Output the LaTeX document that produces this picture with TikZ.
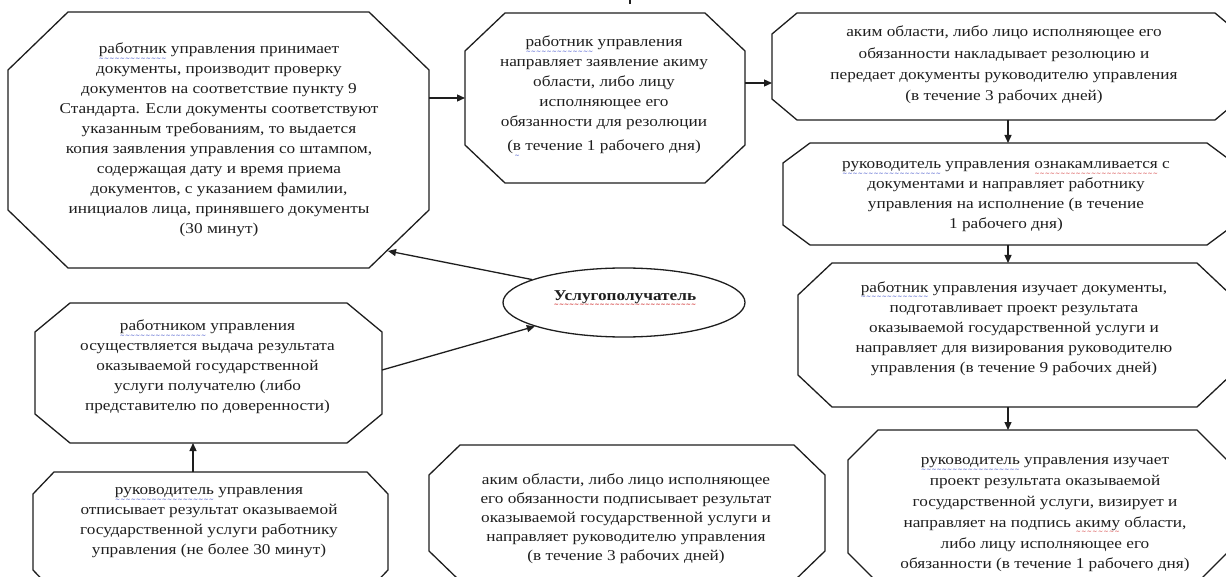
\documentclass[tikz,border=0pt]{standalone}
\usepackage{fontspec}
\setmainfont[FakeStretch=1.15]{Liberation Serif}
\newfontfamily\wavefont{DejaVu Sans}
\usetikzlibrary{arrows.meta,calc,shapes.geometric}

\definecolor{inkc}{HTML}{1E1E1E}
\definecolor{spellblue}{HTML}{2B3FC4}
\definecolor{spellred}{HTML}{D02C2C}

% wavy underline: colour, text
\newcommand\wavy[2]{%
  \setbox0\hbox{#2}%
  \rlap{\raisebox{-6.5pt}[0pt][0pt]{\hbox to \wd0{\color{#1}\wavefont\fontsize{6}{6}\selectfont\xleaders\hbox{\char"007E}\hfill}}}\box0\relax}
\newcommand\bwave[1]{\wavy{spellblue}{#1}}
\newcommand\rwave[1]{\wavy{spellred}{#1}}

\tikzset{
  frame/.style={draw=inkc, line width=1.3pt, line join=miter},
  boxarea/.style={rectangle, draw=none, inner sep=0pt, outer sep=0pt},
  txt/.style={align=center, text=inkc, inner sep=0pt, font=\fontsize{15}{20}\selectfont},
  arr/.style={frame, -{Triangle[length=8pt,width=7pt]}},
}

% octagonal step box: name, left, top, right, bottom, chamfer x, chamfer y
\newcommand\octbox[7]{%
  \node[boxarea, minimum width={(#4-#2)*1pt}, minimum height={(#5-#3)*1pt}]
    (#1) at ({(#2+#4)/2},{(#3+#5)/2}) {};
  \draw[frame] ($(#1.north west)+(#6,0)$) -- ($(#1.north east)+(-#6,0)$)
    -- ($(#1.north east)+(0,#7)$) -- ($(#1.south east)+(0,-#7)$)
    -- ($(#1.south east)+(-#6,0)$) -- ($(#1.south west)+(#6,0)$)
    -- ($(#1.south west)+(0,-#7)$) -- ($(#1.north west)+(0,#7)$) -- cycle;
}

\begin{document}
\begin{tikzpicture}[x=1pt,y=-1pt]
\useasboundingbox (0,0) rectangle (1226,577);
\clip (0,0) rectangle (1226,577);
\fill[white] (0,0) rectangle (1226,577);

% boxes
\octbox{b1}{8}{12}{429}{268}{60}{58}
\octbox{b2}{465}{13}{745}{183}{40}{38}
\octbox{b3}{772}{13}{1240}{120}{25}{21}
\octbox{b4}{783}{143}{1234}{245}{27}{20}
\octbox{b5}{798}{263}{1231}{407}{34}{32}
\octbox{b6}{848}{430}{1227}{583}{30}{30}
\octbox{b7}{429}{445}{825}{581}{31}{30}
\octbox{b8}{35}{303}{382}{443}{35}{29}
\octbox{b9}{33}{472}{388}{592}{21}{22}

\node[frame, ellipse, inner sep=0pt, minimum width=242pt, minimum height=69pt] (u) at (624,302.5) {};

% texts
\node[txt] (t1) at (219,140) {\bwave{работник} управления принимает\\
документы, производит проверку\\
документов на соответствие пункту 9\\
Стандарта. Если документы соответствуют\\
указанным требованиям, то выдается\\
копия заявления управления со штампом,\\
содержащая дату и время приема\\
документов, с указанием фамилии,\\
инициалов лица, принявшего документы\\
(30 минут)};

\node[txt] (t2) at (604,95) {\bwave{работник} управления\\
направляет заявление акиму\\
области, либо лицу\\
исполняющее его\\
обязанности для резолюции\\[4pt]
(\bwave{в} течение 1 рабочего дня)};

\node[txt, font=\fontsize{15}{21.3}\selectfont] (t3) at (1004,65) {аким области, либо лицо исполняющее его\\
обязанности накладывает резолюцию и\\
передает документы руководителю управления\\
(в течение 3 рабочих дней)};

\node[txt] (t4) at (1006,197) {\bwave{руководитель} управления \rwave{ознакамливается} с\\
документами и направляет работнику\\
управления на исполнение (в течение\\
1 рабочего дня)};

\node[txt] (t5) at (1014,328.5) {\bwave{работник} управления изучает документы,\\
подготавливает проект результата\\
оказываемой государственной услуги и\\
направляет для визирования руководителю\\
управления (в течение 9 рабочих дней)};

\node[txt, font=\fontsize{15}{20.8}\selectfont] (t6) at (1045,515) {\bwave{руководитель} управления изучает\\
проект результата оказываемой\\
государственной услуги, визирует и\\
направляет на подпись \rwave{акиму} области,\\
либо лицу исполняющее его\\
обязанности (в течение 1 рабочего дня)};

\node[txt, font=\fontsize{15}{19}\selectfont] (t7) at (626,519) {аким области, либо лицо исполняющее\\
его обязанности подписывает результат\\
оказываемой государственной услуги и\\
направляет руководителю управления\\
(в течение 3 рабочих дней)};

\node[txt] (t8) at (207.5,367) {\bwave{работником} управления\\
осуществляется выдача результата\\
оказываемой государственной\\
услуги получателю (либо\\
представителю по доверенности)};

\node[txt] (t9) at (209,523) {\bwave{руководитель} управления\\
отписывает результат оказываемой\\
государственной услуги работнику\\
управления (не более 30 минут)};

\node[txt, font=\fontsize{15}{20}\selectfont\bfseries] (ut) at (625,297) {\rwave{Услугополучатель}};

% connectors
\coordinate (rightcol) at (1008,0);
\coordinate (leftcol) at (193,0);
\coordinate (b1in) at ($(b1.south east)+(-41,-17)$);
\coordinate (topstub) at (630,0);

\draw[arr] (b2.west -| b1.east) -- (b2.west);
\draw[arr] ([yshift=15pt]b2.east) -- ([yshift=15pt]b2.east -| b3.west);
\draw[arr] (rightcol |- b3.south) -- (rightcol |- b4.north);
\draw[arr] (rightcol |- b4.south) -- (rightcol |- b5.north);
\draw[arr] (rightcol |- b5.south) -- (rightcol |- b6.north);
\draw[arr] (leftcol |- b9.north) -- (leftcol |- b8.south);
\draw[arr] (u.166) -- (b1in);
\draw[arr] ([yshift=3pt]b8.east) -- (u.195);
\draw[frame] (topstub) -- ++(0,4);
\end{tikzpicture}
\end{document}
